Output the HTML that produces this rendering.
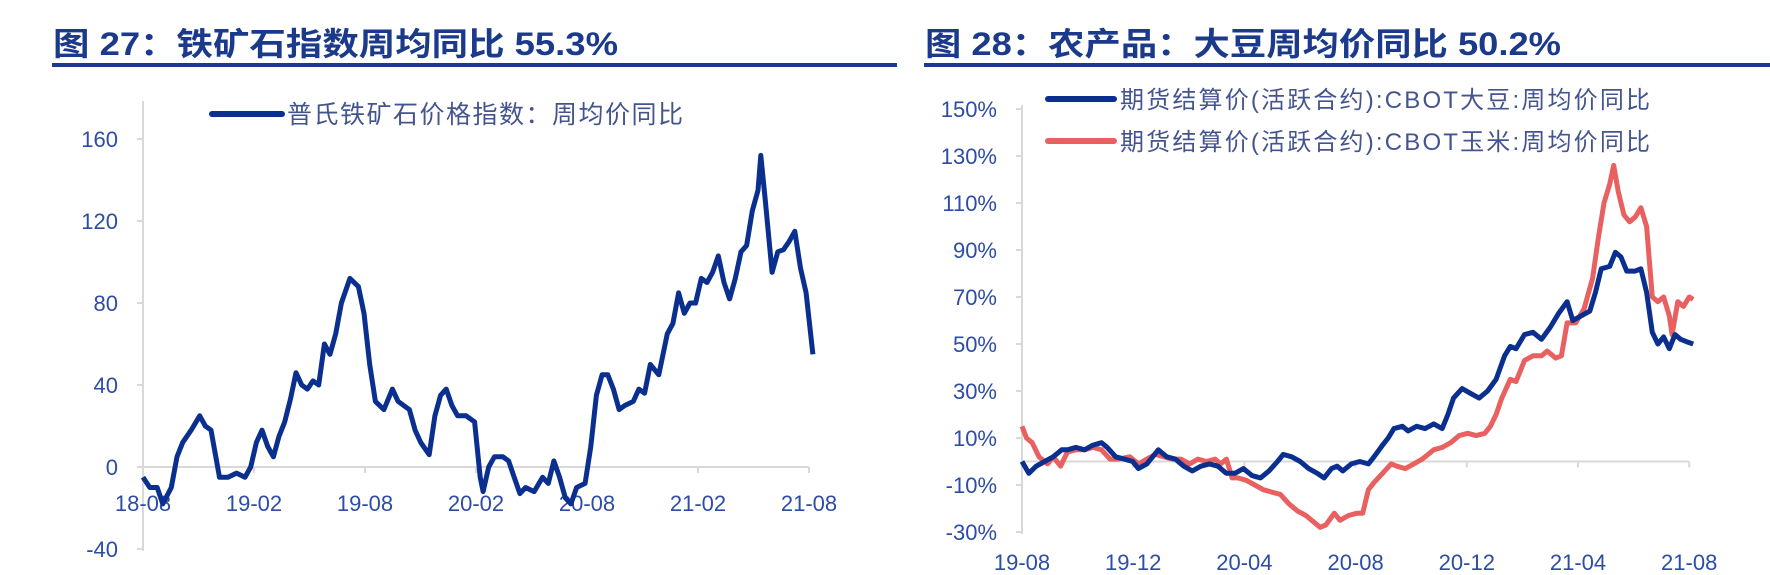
<!DOCTYPE html>
<html><head><meta charset="utf-8">
<style>
html,body{margin:0;padding:0;background:#fff;}
svg{display:block;}
text{font-family:"Liberation Sans","Noto Sans CJK SC",sans-serif;}
</style></head>
<body>
<svg id="s" width="1770" height="575" viewBox="0 0 1770 575">
  <g>
    <text x="53" y="55" font-size="32" font-weight="bold" fill="#1b3a8c" textLength="565" lengthAdjust="spacingAndGlyphs">图 27：铁矿石指数周均同比 55.3%</text>
    <rect x="52" y="63" width="845" height="4" fill="#1b3a8c"/>
    <line x1="212" y1="114" x2="282" y2="114" stroke="#0a2f8f" stroke-width="6" stroke-linecap="round"/>
    <text x="287" y="123" font-size="25" fill="#44548f" textLength="396">普氏铁矿石价格指数：周均价同比</text>
    <g id="L"></g>
  </g>
  <g>
    <text x="925" y="55" font-size="32" font-weight="bold" fill="#1b3a8c" textLength="636" lengthAdjust="spacingAndGlyphs">图 28：农产品：大豆周均价同比 50.2%</text>
    <rect x="924" y="63" width="846" height="4" fill="#1b3a8c"/>
    <line x1="1048" y1="99" x2="1114" y2="99" stroke="#0a2f8f" stroke-width="6" stroke-linecap="round"/>
    <text x="1120" y="108" font-size="24" fill="#44548f" textLength="530">期货结算价(活跃合约):CBOT大豆:周均价同比</text>
    <line x1="1048" y1="141" x2="1114" y2="141" stroke="#e86060" stroke-width="6" stroke-linecap="round"/>
    <text x="1120" y="150" font-size="24" fill="#44548f" textLength="530">期货结算价(活跃合约):CBOT玉米:周均价同比</text>
    <g id="R"></g>
  </g>
</svg>
<script>
// ---- Left chart data (months since 2018-08) ----
const ironX = [250,262,275,285,300,310,320,335,350,360,370,385,400,415,430,440,450,460,470,480,490,500,510,520,530,540,550,560,570,580,590,600,615,630,640,650,660,675,690,700,710,720,730,740,755,765,775,785,795,805,820,835,845,850,860,870,885,895,905,915,925,940,955,965,975,985,995,1005,1015,1030,1040,1050,1060,1070,1080,1090,1100,1115,1125,1135,1145,1160,1175,1185,1195,1205,1215,1225,1235,1245,1255,1265,1275,1285,1295,1305,1315,1325,1335,1340,1348,1360,1370,1380,1390,1400,1410,1420,1432];
const ironVals = [-5,-10,-10,-18,-10,5,12,18,25,20,18,-5,-5,-3,-5,0,12,18,10,5,15,22,33,46,40,38,42,40,60,55,65,80,92,88,75,50,32,28,38,32,30,28,18,12,6,25,35,38,30,25,25,22,-5,-12,0,5,5,3,-5,-13,-10,-12,-5,-8,3,-5,-15,-18,-10,-8,10,35,45,45,38,28,30,32,38,36,50,45,65,70,85,75,80,80,92,90,95,103,90,82,92,105,108,125,135,152,130,95,105,106,110,115,97,85,55];
const ironTicks = [-40,0,40,80,120,160];
const ironXLabels = ["18-08","19-02","19-08","20-02","20-08","21-02","21-08"];
// ---- Right chart data (months since 2019-08) ----
const soyX = [250,262,275,290,305,320,330,345,360,375,390,400,415,430,445,455,470,490,505,520,535,550,565,580,595,610,625,640,655,670,685,700,710,725,740,755,770,782,795,805,815,830,845,860,870,885,895,905,920,930,945,960,975,990,1000,1010,1025,1040,1055,1070,1085,1100,1110,1120,1135,1150,1165,1180,1195,1210,1220,1235,1250,1260,1270,1285,1295,1305,1315,1330,1340,1350,1360,1370,1380,1390,1400,1410,1420,1432];
const soyVals = [0,-5,-2,0,2,5,5,6,5,7,8,6,2,1,0,-3,-1,5,2,1,-2,-4,-2,-1,-2,-5,-5,-3,-6,-7,-4,0,3,2,0,-3,-5,-7,-3,-2,-4,-1,0,-1,2,7,10,14,15,13,15,14,16,14,20,27,31,29,27,30,35,45,49,48,54,55,52,57,63,68,60,62,64,72,82,83,89,87,81,81,82,72,55,50,53,48,54,52,51,50];
const cornX = [250,258,268,280,295,305,318,330,345,360,375,390,405,420,440,455,470,485,500,515,530,545,560,575,590,600,610,620,630,645,660,675,690,705,720,735,750,765,775,785,800,810,825,840,850,860,870,885,900,910,925,940,955,965,975,990,1005,1020,1035,1050,1065,1075,1085,1095,1110,1120,1135,1150,1165,1175,1190,1200,1210,1225,1240,1255,1265,1275,1285,1292,1300,1310,1320,1330,1340,1350,1360,1370,1380,1390,1395,1405,1415,1425,1432];
const cornVals = [15,10,8,2,-1,2,-2,4,5,5,6,5,1,1,2,-1,1,3,2,1,1,-1,1,0,1,-1,1,-7,-7,-8,-10,-12,-13,-14,-18,-21,-23,-26,-28,-27,-22,-25,-23,-22,-22,-12,-9,-5,-1,-2,-3,-1,1,3,5,6,8,11,12,11,12,15,20,27,35,34,43,45,45,47,44,45,59,59,65,78,95,110,118,126,115,105,102,104,108,100,70,68,70,62,54,68,66,70,69];
const pctTicks = [-30,-10,10,30,50,70,90,110,130,150];
const pctXLabels = ["19-08","19-12","20-04","20-08","20-12","21-04","21-08"];

const NS = "http://www.w3.org/2000/svg";
function mk(parent, tag, attrs){const e=document.createElementNS(NS,tag);for(const k in attrs)e.setAttribute(k,attrs[k]);parent.appendChild(e);return e;}
const TXT="#2d4ca6";

// Left scales
const lx = m => 143 + m*18.5;
const ly = v => 467 - v*2.05;
const lMonth = px => (px-250)/32.64;
const L = document.getElementById('L');
let a = mk(L,'line',{x1:143,y1:101,x2:143,y2:551,stroke:'#d9d9d9','stroke-width':2});


let z = mk(L,'line',{x1:137,y1:ly(0),x2:lx(36),y2:ly(0),stroke:'#d9d9d9','stroke-width':2});


ironTicks.forEach(t=>{
  const tk=mk(L,'line',{x1:137,y1:ly(t),x2:143,y2:ly(t),stroke:'#d9d9d9','stroke-width':2});
  
  
  const e=mk(L,'text',{x:118,y:ly(t)+8,'text-anchor':'end','font-size':22,fill:TXT});
  e.textContent=t;
  
  
});
ironXLabels.forEach((s,i)=>{
  const x=lx(i*6);
  const tk=mk(L,'line',{x1:x,y1:ly(0),x2:x,y2:ly(0)+6,stroke:'#d9d9d9','stroke-width':2});
  
  
  const e=mk(L,'text',{x:x,y:511,'text-anchor':'middle','font-size':22,fill:TXT});
  e.textContent=s;
  
  
});
const lp = ironX.map((px,i)=>lx(lMonth(px)).toFixed(1)+','+ly(ironVals[i]).toFixed(1)).join(' ');
const ll = mk(L,'polyline',{points:lp,fill:'none',stroke:'#0a2f8f','stroke-width':5,'stroke-linejoin':'round'});



// Right scales
const rx = m => 1022 + m*27.8;
const ry = v => 461.5 - v*2.35;
const rMonth = px => (px-250)/48.96;
const R = document.getElementById('R');
a = mk(R,'line',{x1:1022,y1:105,x2:1022,y2:534,stroke:'#d9d9d9','stroke-width':2});


z = mk(R,'line',{x1:1022,y1:ry(0),x2:rx(24),y2:ry(0),stroke:'#d9d9d9','stroke-width':2});


pctTicks.forEach(t=>{
  const tk=mk(R,'line',{x1:1016,y1:ry(t),x2:1022,y2:ry(t),stroke:'#d9d9d9','stroke-width':2});
  
  
  const e=mk(R,'text',{x:997,y:ry(t)+8,'text-anchor':'end','font-size':22,fill:TXT});
  e.textContent=t+'%';
  
  
});
pctXLabels.forEach((s,i)=>{
  const x=rx(i*4);
  const tk=mk(R,'line',{x1:x,y1:ry(0),x2:x,y2:ry(0)+6,stroke:'#d9d9d9','stroke-width':2});
  
  
  const e=mk(R,'text',{x:x,y:570,'text-anchor':'middle','font-size':22,fill:TXT});
  e.textContent=s;
  
  
});
const cp = cornX.map((px,i)=>rx(rMonth(px)).toFixed(1)+','+ry(cornVals[i]).toFixed(1)).join(' ');
const cl = mk(R,'polyline',{points:cp,fill:'none',stroke:'#e86060','stroke-width':5,'stroke-linejoin':'round'});


const sp = soyX.map((px,i)=>rx(rMonth(px)).toFixed(1)+','+ry(soyVals[i]).toFixed(1)).join(' ');
const sl = mk(R,'polyline',{points:sp,fill:'none',stroke:'#0a2f8f','stroke-width':5,'stroke-linejoin':'round'});


</script>
</body></html>
